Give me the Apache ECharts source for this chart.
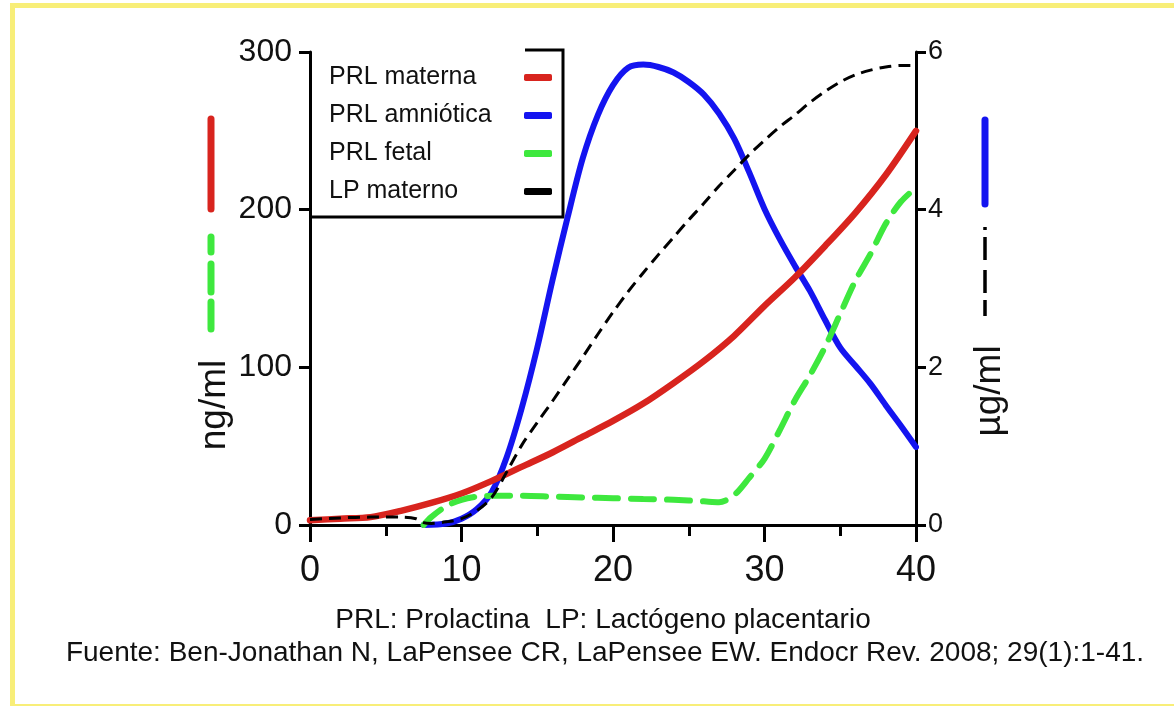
<!DOCTYPE html>
<html>
<head>
<meta charset="utf-8">
<script src="https://cdn.jsdelivr.net/npm/echarts@6/dist/echarts.min.js"></script>
<style>
    html, body { margin: 0; padding: 0; width: 1174px; height: 706px; overflow: hidden; background: #fff; }
    .marco {
        position: absolute; left: 10px; top: 3px; width: 1200px; height: 696px;
        border-left: 5px solid #f8ee78; border-top: 5px solid #f8ee78; border-bottom: 2px solid #f8ee78;
    }
    #grafico { position: absolute; left: 0; top: 0; width: 1174px; height: 706px; }
</style>
</head>
<body>
<div class="marco"></div>
<div id="grafico"></div>
<script>
    // semanas de gestación y valores
    var nombres = ['PRL materna', 'PRL amniótica', 'PRL fetal', 'LP materno'];
    var xTicks = [0, 10, 20, 30, 40];
    var yIzqTicks = [0, 100, 200, 300];   // ng/ml
    var yDerTicks = [0, 2, 4, 6];         // µg/ml

    // PRL materna (ng/ml)
    var semMaterna = [0, 2, 4, 6, 8, 10, 12, 14, 16, 18, 20, 22, 24, 26, 28, 30, 32, 34, 36, 38, 40];
    var prlMaterna = [3, 4, 5, 9, 14, 20, 28, 37, 46, 56, 66, 77, 90, 104, 120, 139, 157, 177, 198, 222, 250];

    // PRL amniótica (µg/ml)
    var semAmnio = [7.5, 9, 10, 11, 12, 13, 14, 15, 16, 17, 18, 19, 20, 21, 22, 23, 24, 25, 26, 27, 28, 29, 30, 31, 32, 33, 34, 35, 36, 37, 38, 39, 40];
    var prlAmnio = [0, 0.02, 0.08, 0.2, 0.42, 0.87, 1.5, 2.25, 3.1, 3.9, 4.65, 5.2, 5.58, 5.8, 5.84, 5.81, 5.74, 5.62, 5.46, 5.22, 4.9, 4.47, 4.01, 3.63, 3.29, 2.97, 2.6, 2.25, 2.02, 1.79, 1.52, 1.26, 0.99];

    // PRL fetal (ng/ml)
    var semFetal = [7.5, 8, 9, 10, 11, 12, 14, 16, 18, 20, 22, 24, 26, 27, 28, 29, 30, 31, 32, 33, 34, 35, 36, 37, 38, 39, 40];
    var prlFetal = [0, 5, 12, 16, 18, 18.5, 18.5, 18, 17.5, 17, 16.5, 16, 15, 14.5, 19, 30, 42, 60, 79, 95, 113, 134, 155, 172, 191, 205, 214];

    // LP materno (µg/ml)
    var semLP = [0, 2, 4, 6, 7, 7.5, 8, 9, 10, 11, 12, 13, 14, 15, 16, 17, 18, 19, 20, 21, 22, 23, 24, 25, 26, 27, 28, 29, 30, 31, 32, 33, 34, 35, 36, 37, 38, 39, 40];
    var lpMaterno = [0.07, 0.09, 0.1, 0.1, 0.08, 0.03, 0.02, 0.04, 0.08, 0.18, 0.35, 0.68, 1.02, 1.3, 1.57, 1.85, 2.13, 2.42, 2.7, 2.96, 3.2, 3.43, 3.65, 3.87, 4.08, 4.3, 4.5, 4.7, 4.88, 5.05, 5.2, 5.36, 5.5, 5.62, 5.71, 5.77, 5.81, 5.83, 5.83];

    var fuente = 'Liberation Sans, Arial, Helvetica, sans-serif';

    function pares(xs, ys) {
        return xs.map(function (x, i) { return [x, ys[i]]; });
    }

    var mychart = echarts.init(document.getElementById('grafico'));
    mychart.setOption({
        animation: false,
        textStyle: { fontFamily: fuente },
        grid: { left: 310, right: 258, top: 52, bottom: 181 },
        legend: {
            orient: 'vertical',
            left: 324,
            top: 60,
            align: 'right',
            itemWidth: 28,
            itemHeight: 7,
            itemGap: 13,
            selectedMode: false,
            formatter: function (n) { return '{a|' + n + '}'; },
            textStyle: {
                color: '#111',
                fontSize: 25,
                rich: { a: { width: 190, align: 'left', fontSize: 25, lineHeight: 28, color: '#111' } }
            },
            data: [
                { name: nombres[0], icon: 'roundRect', itemStyle: { color: '#d8241e' } },
                { name: nombres[1], icon: 'roundRect', itemStyle: { color: '#1414f0' } },
                { name: nombres[2], icon: 'roundRect', itemStyle: { color: '#3ee83e' } },
                { name: nombres[3], icon: 'roundRect', itemStyle: { color: '#000' } }
            ]
        },
        xAxis: {
            type: 'value',
            min: 0,
            max: 40,
            interval: 10,
            axisLine: { lineStyle: { color: '#000', width: 3 } },
            axisTick: { length: 17, lineStyle: { color: '#000', width: 3 } },
            minorTick: { show: true, splitNumber: 2, length: 11, lineStyle: { color: '#000', width: 3 } },
            splitLine: { show: false },
            axisLabel: {
                fontSize: 36,
                color: '#111',
                margin: 28,
                formatter: function (v) { return xTicks.indexOf(v) >= 0 ? String(v) : ''; }
            }
        },
        yAxis: [
            {
                type: 'value',
                position: 'left',
                min: 0,
                max: 300,
                interval: 100,
                axisLine: { show: true, onZero: false, lineStyle: { color: '#000', width: 3 } },
                axisTick: { show: true, length: 11, lineStyle: { color: '#000', width: 3 } },
                splitLine: { show: false },
                axisLabel: {
                    fontSize: 32,
                    color: '#111',
                    margin: 18,
                    formatter: function (v) { return yIzqTicks.indexOf(v) >= 0 ? String(v) : ''; }
                }
            },
            {
                type: 'value',
                position: 'right',
                min: 0,
                max: 6,
                interval: 2,
                axisLine: { show: true, onZero: false, lineStyle: { color: '#000', width: 3 } },
                axisTick: { show: true, length: 10, lineStyle: { color: '#000', width: 3 } },
                splitLine: { show: false },
                axisLabel: {
                    fontSize: 27,
                    color: '#111',
                    margin: 12,
                    formatter: function (v) { return yDerTicks.indexOf(v) >= 0 ? String(v) : ''; }
                }
            }
        ],
        series: [
            {
                name: nombres[1],
                type: 'line',
                yAxisIndex: 1,
                data: pares(semAmnio, prlAmnio),
                smooth: 0.3,
                showSymbol: false,
                color: '#1414f0',
                lineStyle: { color: '#1414f0', width: 6, cap: 'round' }
            },
            {
                name: nombres[0],
                type: 'line',
                yAxisIndex: 0,
                data: pares(semMaterna, prlMaterna),
                smooth: 0.3,
                showSymbol: false,
                color: '#d8241e',
                lineStyle: { color: '#d8241e', width: 6.5, cap: 'round' }
            },
            {
                name: nombres[2],
                type: 'line',
                yAxisIndex: 0,
                data: pares(semFetal, prlFetal),
                smooth: 0.3,
                showSymbol: false,
                color: '#3ee83e',
                lineStyle: { color: '#3ee83e', width: 6, type: [23, 13], cap: 'round' }
            },
            {
                name: nombres[3],
                type: 'line',
                yAxisIndex: 1,
                data: pares(semLP, lpMaterno),
                smooth: 0.3,
                showSymbol: false,
                color: '#000',
                lineStyle: { color: '#000', width: 3, type: [12, 7] }
            }
        ],
        graphic: [
            // marco de la leyenda
            {
                type: 'polyline',
                shape: { points: [[525, 50], [563, 50], [563, 217], [310, 217]] },
                style: { stroke: '#000', lineWidth: 3, fill: null }
            },
            // claves de color junto a las unidades
            {
                type: 'line',
                shape: { x1: 211, y1: 119, x2: 211, y2: 209 },
                style: { stroke: '#d8241e', lineWidth: 7, lineCap: 'round' }
            },
            {
                type: 'line',
                shape: { x1: 211, y1: 237, x2: 211, y2: 329 },
                style: { stroke: '#3ee83e', lineWidth: 7, lineCap: 'round', lineDash: [15, 12, 28, 10, 28, 100] }
            },
            {
                type: 'line',
                shape: { x1: 985, y1: 120, x2: 985, y2: 204 },
                style: { stroke: '#1414f0', lineWidth: 7, lineCap: 'round' }
            },
            {
                type: 'line',
                shape: { x1: 985, y1: 227, x2: 985, y2: 316 },
                style: { stroke: '#000', lineWidth: 3.5, lineDash: [3, 7, 23, 10, 23, 7, 16, 100] }
            },
            {
                type: 'text',
                x: 215, y: 405, rotation: Math.PI / 2,
                style: { text: 'ng/ml', fontSize: 37, fontFamily: fuente, fill: '#111', textAlign: 'center', textVerticalAlign: 'middle' }
            },
            {
                type: 'text',
                x: 990, y: 391, rotation: Math.PI / 2,
                style: { text: 'µg/ml', fontSize: 37, fontFamily: fuente, fill: '#111', textAlign: 'center', textVerticalAlign: 'middle' }
            },
            {
                type: 'text',
                x: 603, y: 620,
                style: { text: 'PRL: Prolactina  LP: Lactógeno placentario', fontSize: 28, fontFamily: fuente, fill: '#111', textAlign: 'center', textVerticalAlign: 'middle' }
            },
            {
                type: 'text',
                x: 605, y: 653,
                style: { text: 'Fuente: Ben-Jonathan N, LaPensee CR, LaPensee EW. Endocr Rev. 2008; 29(1):1-41.', fontSize: 28, fontFamily: fuente, fill: '#111', textAlign: 'center', textVerticalAlign: 'middle' }
            }
        ]
    });

    window.addEventListener('resize', function () {
        mychart.resize();
    });
</script>
</body>
</html>
